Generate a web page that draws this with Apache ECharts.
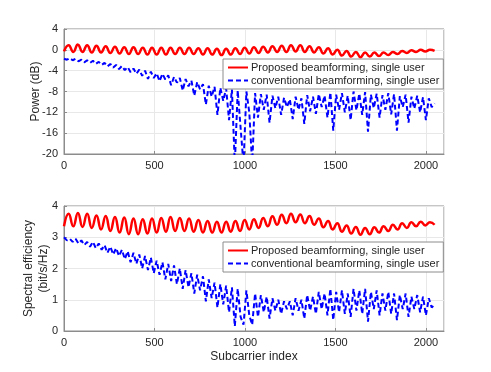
<!DOCTYPE html>
<html>
<head>
    <meta charset="utf-8">
    <title>beamforming</title>
    <script src="https://cdn.jsdelivr.net/npm/echarts@6/dist/echarts.min.js"></script>
    <style>
        body { margin: 0; background: #fff; }
        #chart1 { width: 491px; height: 372px; }
    </style>
</head>
<body>
<div id="chart1"></div>
<script type="text/javascript">
    // sample spacing (subcarriers) of the values
    var redStep = 25.6;
    var blueStep = 16;

    // top plot: power (dB)
    var proposedPower = [-0.3, 0.9, -0.4, 1.0, -0.4, 0.9, -0.5, 0.8, -0.5, 0.7,
        -0.6, 0.6, -0.7, 0.5, -0.8, 0.5, -0.8, 0.4, -0.9, 0.4,
        -0.9, 0.4, -0.9, 0.4, -0.8, 0.4, -0.8, 0.4, -0.8, 0.3,
        -0.9, 0.3, -0.9, 0.2, -1.0, 0.2, -0.9, 0.3, -0.8, 0.4,
        -0.7, 0.5, -0.6, 0.6, -0.5, 0.7, -0.4, 0.8, -0.4, 0.9,
        -0.3, 0.9, -0.4, 0.7, -0.5, 0.5, -0.7, 0.3, -0.9, 0.0,
        -1.1, -0.2, -1.3, -0.4, -1.4, -0.5, -1.3, -0.5, -1.2, -0.5,
        -1.0, -0.4, -0.8, -0.2, -0.6, -0.1, -0.4, 0.0, -0.3, 0.0, -0.2];
    var convPower = [-1.7, -1.9, -1.6, -2.0, -1.7, -2.2, -1.9, -2.4, -2.0, -2.5,
        -2.1, -2.7, -2.3, -2.9, -2.5, -3.2, -2.7, -3.4, -2.9, -3.7,
        -3.1, -3.9, -3.3, -4.3, -3.6, -4.6, -3.8, -5.0, -4.0, -5.6,
        -4.2, -5.4, -4.5, -6.0, -4.6, -5.7, -4.9, -6.8, -5.2, -6.3,
        -5.4, -7.8, -5.6, -7.0, -5.9, -8.8, -6.2, -7.6, -6.6, -10.5,
        -6.9, -9.0, -7.1, -12.5, -7.3, -9.8, -7.4, -13.5, -7.6, -22,
        -7.8, -15, -22, -8.0, -12, -22, -8.3, -13, -8.5, -11.5,
        -8.6, -14, -8.8, -11.2, -9.0, -12.5, -9.2, -11, -9.5, -13.3,
        -9.0, -11.5, -9.3, -14.2, -8.7, -11.8, -9.0, -12.3, -8.5, -11.0,
        -8.8, -13.0, -8.2, -15.5, -8.6, -11.5, -8.3, -12.0, -8.8, -13.5,
        -8.0, -11.6, -8.4, -12.5, -8.1, -15.7, -8.6, -11.2, -8.4, -13.0,
        -8.7, -11.5, -8.3, -12.4, -8.5, -15.5, -8.9, -11.0, -8.6, -14.0,
        -9.0, -11.3, -8.8, -12.0, -9.1, -13.5, -9.3, -11.0, -10.3];

    // bottom plot: spectral efficiency (bit/s/Hz)
    var proposedSE = [3.35, 3.75, 3.35, 3.78, 3.33, 3.75, 3.3, 3.7, 3.25, 3.68,
        3.2, 3.65, 3.15, 3.63, 3.1, 3.6, 3.1, 3.58, 3.12, 3.6,
        3.15, 3.62, 3.18, 3.65, 3.2, 3.62, 3.2, 3.6, 3.18, 3.55,
        3.15, 3.52, 3.15, 3.5, 3.15, 3.5, 3.18, 3.52, 3.2, 3.55,
        3.25, 3.58, 3.3, 3.62, 3.35, 3.67, 3.4, 3.72, 3.45, 3.75,
        3.48, 3.73, 3.45, 3.68, 3.4, 3.6, 3.32, 3.52, 3.25, 3.45,
        3.18, 3.38, 3.12, 3.33, 3.08, 3.3, 3.1, 3.32, 3.15, 3.35,
        3.2, 3.4, 3.25, 3.45, 3.3, 3.48, 3.35, 3.5, 3.38, 3.48, 3.4];
    var convSE = [3.0, 2.9, 2.95, 2.85, 2.95, 2.8, 2.9, 2.75, 2.85, 2.7,
        2.85, 2.65, 2.8, 2.6, 2.75, 2.5, 2.7, 2.45, 2.65, 2.4,
        2.6, 2.3, 2.55, 2.2, 2.5, 2.15, 2.45, 2.0, 2.4, 1.95,
        2.35, 1.85, 2.25, 1.8, 2.2, 1.65, 2.15, 1.6, 2.1, 1.5,
        2.0, 1.35, 1.95, 1.4, 1.85, 1.2, 1.8, 1.3, 1.75, 0.95,
        1.65, 1.05, 1.55, 0.75, 1.5, 0.85, 1.45, 0.6, 1.4, 0.15,
        1.35, 0.45, 0.2, 1.3, 0.5, 0.2, 1.2, 0.45, 1.15, 0.6,
        1.1, 0.4, 1.05, 0.65, 1.0, 0.55, 0.95, 0.7, 0.95, 0.5,
        1.05, 0.65, 1.0, 0.4, 1.15, 0.65, 1.1, 0.55, 1.25, 0.7,
        1.2, 0.5, 1.35, 0.35, 1.25, 0.6, 1.3, 0.55, 1.2, 0.45,
        1.35, 0.65, 1.3, 0.55, 1.35, 0.3, 1.25, 0.7, 1.3, 0.5,
        1.2, 0.65, 1.25, 0.55, 1.2, 0.35, 1.15, 0.7, 1.2, 0.45,
        1.1, 0.7, 1.15, 0.6, 1.1, 0.5, 1.05, 0.75, 0.85];

    var powerTicks = [-20, 4, 4];
    var seTicks = [0, 4, 1];
    var xTicks = [0, 2100, 500];
    var names = ['Proposed beamforming, single user', 'conventional beamforming, single user'];

    // pair each value with its subcarrier index
    function pairs(vals, step) {
        var out = [];
        for (var i = 0; i < vals.length; i++) {
            out.push([i * step, vals[i]]);
        }
        return out;
    }

    var font = 'Liberation Sans, Arial, Helvetica, sans-serif';
    var axisCol = '#8c8c8c';
    var txtCol = '#262626';

    function xAxisCfg(idx, title) {
        return {
            type: 'value', gridIndex: idx,
            min: xTicks[0], max: xTicks[1], interval: xTicks[2],
            name: title, nameLocation: 'middle', nameGap: 20,
            nameTextStyle: { color: txtCol, fontSize: 12, fontFamily: font },
            axisLine: { onZero: false, lineStyle: { color: axisCol } },
            axisTick: { inside: true, length: 3, lineStyle: { color: axisCol } },
            axisLabel: { color: txtCol, fontSize: 11, fontFamily: font, margin: 6, showMaxLabel: false,
                formatter: function (v) { return String(v); } },
            splitLine: { show: true, lineStyle: { color: '#e8e8e8' } }
        };
    }
    function yAxisCfg(idx, t, title, gap) {
        return {
            type: 'value', gridIndex: idx,
            min: t[0], max: t[1], interval: t[2],
            name: title, nameLocation: 'middle', nameGap: gap, nameMoveOverlap: false,
            nameTextStyle: { color: txtCol, fontSize: 12, fontFamily: font, lineHeight: 15 },
            axisLine: { show: true, lineStyle: { color: axisCol } },
            axisTick: { show: true, inside: true, length: 3, lineStyle: { color: axisCol } },
            axisLabel: { color: txtCol, fontSize: 11, fontFamily: font, margin: 6 },
            splitLine: { show: true, lineStyle: { color: '#e8e8e8' } }
        };
    }
    function legendCfg(top) {
        return {
            data: names, orient: 'vertical',
            left: 223, top: top,
            padding: [3, 4, 3, 4], itemGap: 2,
            itemWidth: 20, itemHeight: 10,
            itemStyle: { opacity: 0 },
            backgroundColor: '#fff', borderColor: '#8c8c8c', borderWidth: 1,
            textStyle: { color: txtCol, fontSize: 11, fontFamily: font, padding: [0, 0, 0, -2] },
            selectedMode: false
        };
    }
    function lineSeries(name, idx, data, color, dashed) {
        return {
            name: name, type: 'line', xAxisIndex: idx, yAxisIndex: idx,
            data: data, symbol: 'none', smooth: dashed ? false : 0.5, clip: true,
            lineStyle: { color: color, width: dashed ? 2 : 2.5, type: dashed ? [5, 3] : 'solid' },
            itemStyle: { color: color },
            z: dashed ? 2 : 3
        };
    }

    var myChart = echarts.init(document.getElementById('chart1'));
    var option = {
        animation: false,
        backgroundColor: '#fff',
        grid: [
            { left: 64, top: 29, width: 380, height: 125, show: true, borderColor: axisCol, borderWidth: 1, outerBoundsMode: 'none' },
            { left: 64, top: 206, width: 380, height: 125, show: true, borderColor: axisCol, borderWidth: 1, outerBoundsMode: 'none' }
        ],
        legend: [legendCfg(59), legendCfg(242)],
        xAxis: [xAxisCfg(0, ''), xAxisCfg(1, 'Subcarrier index')],
        yAxis: [
            yAxisCfg(0, powerTicks, 'Power (dB)', 21),
            yAxisCfg(1, seTicks, 'Spectral efficiency\n(bit/s/Hz)', 13)
        ],
        series: [
            lineSeries(names[0], 0, pairs(proposedPower, redStep), '#ff0000', false),
            lineSeries(names[1], 0, pairs(convPower, blueStep), '#0000ff', true),
            lineSeries(names[0], 1, pairs(proposedSE, redStep), '#ff0000', false),
            lineSeries(names[1], 1, pairs(convSE, blueStep), '#0000ff', true)
        ]
    };
    myChart.setOption(option);
</script>
</body>
</html>
